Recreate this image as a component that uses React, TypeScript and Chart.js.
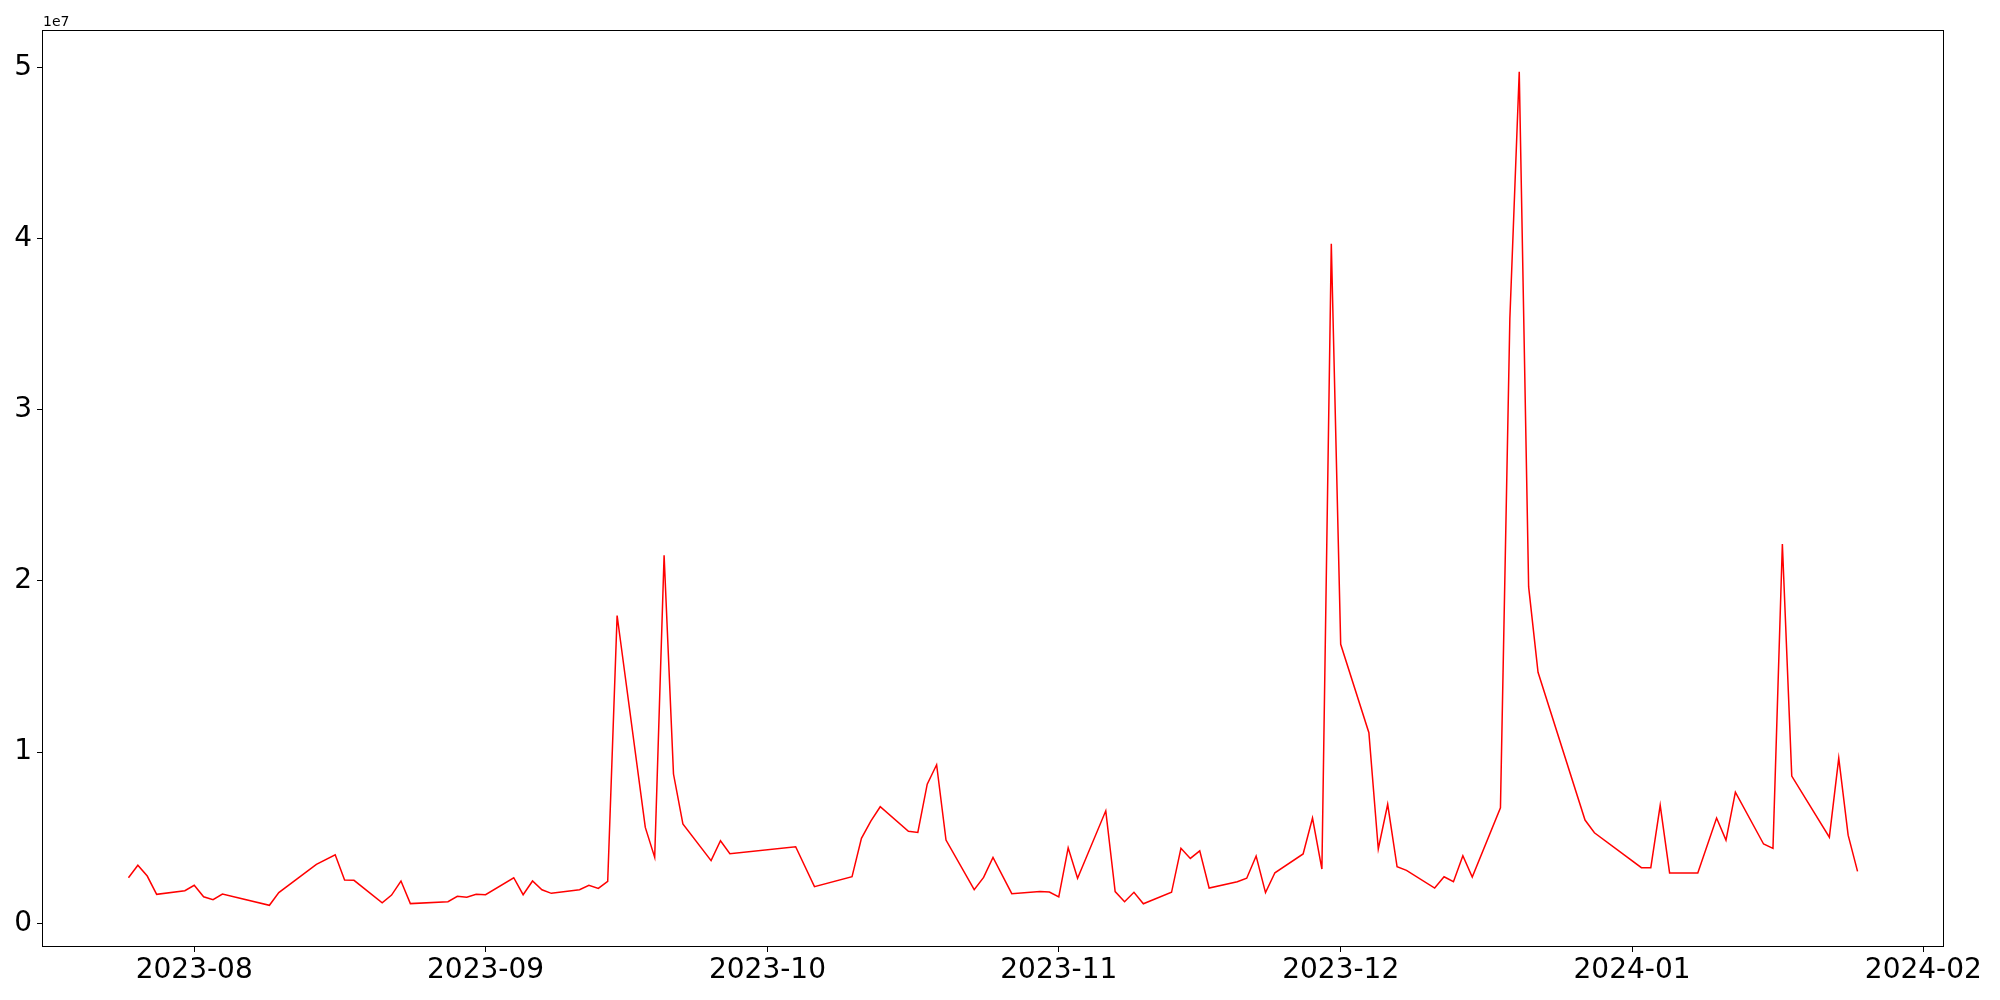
import React, { useEffect, useRef } from "react";
import { Chart, registerables } from "chart.js";

Chart.register(...registerables);

const dates: string[] = [
  "2023-07-25", "2023-07-26", "2023-07-27", "2023-07-28", "2023-07-31",
  "2023-08-01", "2023-08-02", "2023-08-03", "2023-08-04", "2023-08-09",
  "2023-08-10", "2023-08-14", "2023-08-16", "2023-08-17", "2023-08-18",
  "2023-08-21", "2023-08-22", "2023-08-23", "2023-08-24", "2023-08-28",
  "2023-08-29", "2023-08-30", "2023-08-31", "2023-09-01", "2023-09-04",
  "2023-09-05", "2023-09-06", "2023-09-07", "2023-09-08", "2023-09-11",
  "2023-09-12", "2023-09-13", "2023-09-14", "2023-09-15", "2023-09-18",
  "2023-09-19", "2023-09-20", "2023-09-21", "2023-09-22", "2023-09-25",
  "2023-09-26", "2023-09-27", "2023-10-04", "2023-10-06", "2023-10-10",
  "2023-10-11", "2023-10-12", "2023-10-13", "2023-10-16", "2023-10-17",
  "2023-10-18", "2023-10-19", "2023-10-20", "2023-10-23", "2023-10-24",
  "2023-10-25", "2023-10-27", "2023-10-30", "2023-10-31", "2023-11-01",
  "2023-11-02", "2023-11-03", "2023-11-06", "2023-11-07", "2023-11-08",
  "2023-11-09", "2023-11-10", "2023-11-13", "2023-11-14", "2023-11-15",
  "2023-11-16", "2023-11-17", "2023-11-20", "2023-11-21", "2023-11-22",
  "2023-11-23", "2023-11-24", "2023-11-27", "2023-11-28", "2023-11-29",
  "2023-11-30", "2023-12-01", "2023-12-04", "2023-12-05", "2023-12-06",
  "2023-12-07", "2023-12-08", "2023-12-11", "2023-12-12", "2023-12-13",
  "2023-12-14", "2023-12-15", "2023-12-18", "2023-12-19", "2023-12-20",
  "2023-12-21", "2023-12-22", "2023-12-27", "2023-12-28", "2024-01-02",
  "2024-01-03", "2024-01-04", "2024-01-05", "2024-01-08", "2024-01-10",
  "2024-01-11", "2024-01-12", "2024-01-15", "2024-01-16", "2024-01-17",
  "2024-01-18", "2024-01-22", "2024-01-23", "2024-01-24", "2024-01-25",
];

const values: number[] = [
  2660000, 3390000, 2760000, 1690000, 1900000,
  2220000, 1550000, 1380000, 1710000, 1050000,
  1790000, 3440000, 4000000, 2530000, 2510000,
  1200000, 1650000, 2470000, 1150000, 1260000,
  1580000, 1520000, 1690000, 1670000, 2660000,
  1670000, 2470000, 1960000, 1750000, 1960000,
  2220000, 2040000, 2450000, 17980000, 5600000,
  3850000, 21500000, 8720000, 5800000, 3660000,
  4820000, 4060000, 4470000, 2140000, 2720000,
  4960000, 5970000, 6810000, 5370000, 5310000,
  8130000, 9260000, 4860000, 1960000, 2680000,
  3850000, 1730000, 1850000, 1830000, 1540000,
  4410000, 2630000, 6570000, 1850000, 1260000,
  1810000, 1140000, 1810000, 4380000, 3790000,
  4230000, 2060000, 2430000, 2630000, 3930000,
  1790000, 2950000, 4050000, 6150000, 3170000,
  39700000, 16300000, 11130000, 4340000, 6950000,
  3300000, 3090000, 2060000, 2720000, 2430000,
  3950000, 2700000, 6750000, 35300000, 49750000,
  19650000, 14660000, 6030000, 5290000, 3250000,
  3250000, 6890000, 2940000, 2940000, 6150000,
  4860000, 7660000, 4630000, 4380000, 22160000,
  8600000, 5030000, 9650000, 5150000, 3030000,
];

const xTickLabels: string[] = ["2023-08", "2023-09", "2023-10", "2023-11", "2023-12", "2024-01", "2024-02"];
const yTickValues: number[] = [0, 1, 2, 3, 4, 5];
const yExponent = 7;

const toMs = (s: string) => {
  const [y, m, d] = s.split("-").map(Number);
  return Date.UTC(y, m - 1, d || 1);
};

export default function App() {
  const ref = useRef<HTMLCanvasElement | null>(null);

  useEffect(() => {
    if (!ref.current) return;
    const xs = dates.map(toMs);
    const xMin0 = Math.min(...xs);
    const xMax0 = Math.max(...xs);
    const xr = xMax0 - xMin0;
    const yMin0 = Math.min(...values);
    const yMax0 = Math.max(...values);
    const yr = yMax0 - yMin0;
    const scaleFactor = Math.pow(10, yExponent);

    const font = { family: "DejaVu Sans", size: 28 };

    const framePlugin = {
      id: "frame",
      afterDraw(chart: any) {
        const { ctx, chartArea } = chart;
        ctx.save();
        ctx.strokeStyle = "#000";
        ctx.lineWidth = 1;
        const l = Math.round(chartArea.left) + 0.5;
        const t = Math.round(chartArea.top) + 0.5;
        const r = Math.round(chartArea.right) - 0.5;
        const b = Math.round(chartArea.bottom) - 0.5;
        ctx.strokeRect(l, t, r - l, b - t);
        ctx.fillStyle = "#000";
        ctx.font = "14px 'DejaVu Sans'";
        ctx.textAlign = "left";
        ctx.textBaseline = "alphabetic";
        ctx.fillText("1e" + yExponent, chartArea.left + 1, chartArea.top - 4);
        ctx.restore();
      },
    };

    const chart = new Chart(ref.current, {
      type: "line",
      data: {
        datasets: [
          {
            data: xs.map((x, i) => ({ x, y: values[i] })),
            borderColor: "#ff0000",
            borderWidth: 1.5,
            pointRadius: 0,
            tension: 0,
            fill: false,
          },
        ],
      },
      options: {
        animation: false,
        responsive: false,
        devicePixelRatio: 1,
        parsing: false,
        layout: { padding: { left: 0, top: 30, right: 56, bottom: 0 } },
        plugins: { legend: { display: false }, tooltip: { enabled: false } },
        scales: {
          x: {
            type: "linear",
            min: xMin0 - 0.05 * xr,
            max: xMax0 + 0.05 * xr,
            border: { display: false },
            grid: {
              drawOnChartArea: false,
              drawTicks: true,
              tickLength: 5,
              tickColor: "#000",
              tickWidth: 1,
            },
            ticks: {
              color: "#000",
              font,
              padding: 2,
              maxRotation: 0,
              autoSkip: false,
              callback: (v: any) => {
                const d = new Date(Number(v));
                return d.getUTCFullYear() + "-" + String(d.getUTCMonth() + 1).padStart(2, "0");
              },
            },
            afterBuildTicks: (scale: any) => {
              scale.ticks = xTickLabels.map((s) => ({ value: toMs(s) }));
            },
            afterFit: (scale: any) => {
              scale.height = 53;
            },
          },
          y: {
            type: "linear",
            min: yMin0 - 0.05 * yr,
            max: yMax0 + 0.05 * yr,
            border: { display: false },
            grid: {
              drawOnChartArea: false,
              drawTicks: true,
              tickLength: 5,
              tickColor: "#000",
              tickWidth: 1,
            },
            ticks: {
              color: "#000",
              font,
              padding: 5,
              callback: (v: any) => String(Math.round(Number(v) / scaleFactor)),
            },
            afterBuildTicks: (scale: any) => {
              scale.ticks = yTickValues.map((v) => ({ value: v * scaleFactor }));
            },
            afterFit: (scale: any) => {
              scale.width = 42;
            },
          },
        },
      },
      plugins: [framePlugin],
    } as any);

    return () => chart.destroy();
  }, []);

  return (
    <div style={{ position: "fixed", left: 0, top: 0, width: 2000, height: 1000, background: "#fff" }}>
      <canvas ref={ref} width={2000} height={1000} style={{ display: "block", width: 2000, height: 1000 }} />
    </div>
  );
}
